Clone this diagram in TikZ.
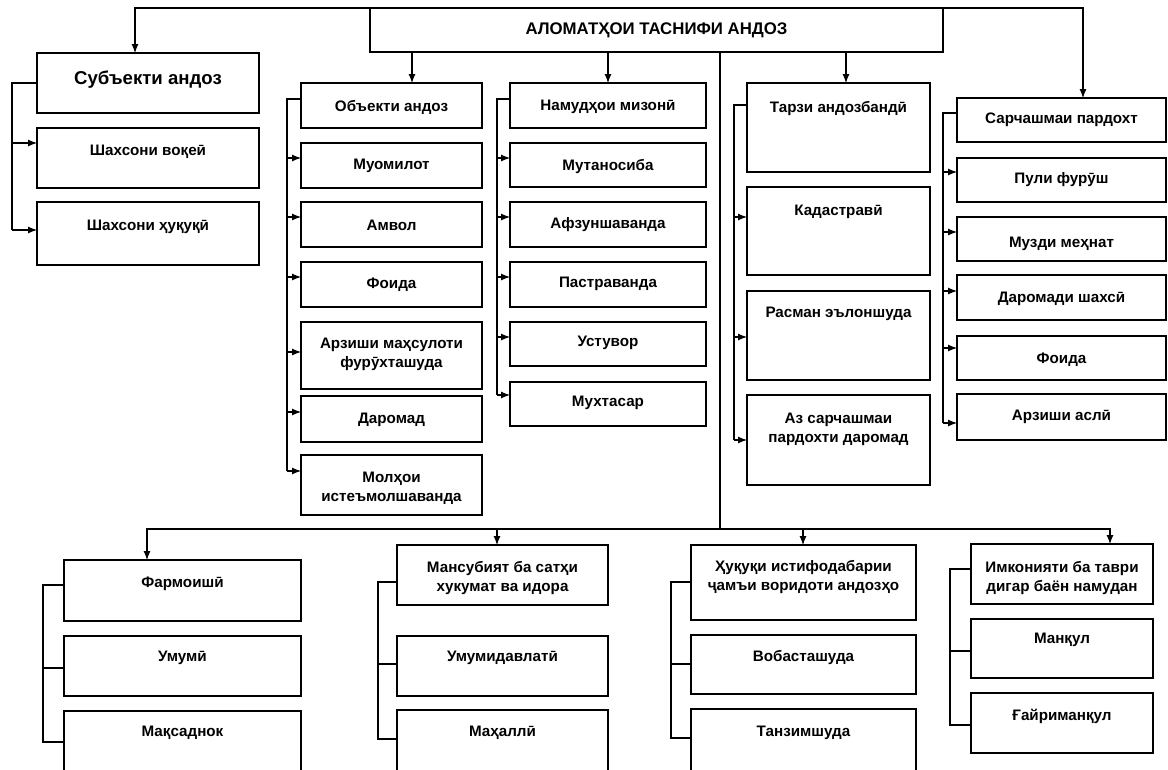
\documentclass[tikz,border=0pt]{standalone}
\usepackage{fontspec}
\setmainfont{Liberation Sans}
\usetikzlibrary{arrows.meta}
\tikzset{
  box/.style={draw, line width=1.2pt, inner sep=0pt, outer sep=0pt, anchor=north west},
  lbl/.style={font=\bfseries\fontsize{15.2}{19}\selectfont, align=center, inner sep=0pt},
  ln/.style={line width=1.1pt},
  arr/.style={ln, -{Latex[length=9pt,width=7pt]}},
}
\newcommand\bx[7]{%
  \node[box,minimum width={(#4-#2)*1pt},minimum height={(#5-#3)*1pt}] (#1) at (#2,#3) {};
  \node[lbl] (#1-t) at ({(#2+#4)/2},#6) {#7};}
\begin{document}
\begin{tikzpicture}[x=1pt,y=-1pt]
\useasboundingbox (0,0) rectangle (1168,769);
\fill[white] (0,0) rectangle (1168,769);
% main
\bx{main}{370}{8}{943}{52}{30}{\fontsize{16.8}{20}\selectfont АЛОМАТҲОИ ТАСНИФИ АНДОЗ}
% left column
\bx{subj}{37}{53}{259}{113}{80}{\fontsize{18.6}{22}\selectfont Субъекти андоз}
\bx{voq}{37}{128}{259}{188}{152}{Шахсони воқеӣ}
\bx{huq}{37}{202}{259}{265}{227}{Шахсони ҳуқуқӣ}
% column 2
\bx{obj}{301}{83}{482}{128}{107}{Объекти андоз}
\bx{muom}{301}{143}{482}{188}{166}{Муомилот}
\bx{amv}{301}{202}{482}{247}{225}{Амвол}
\bx{foi}{301}{262}{482}{307}{285}{Фоида}
\bx{arz}{301}{322}{482}{389}{354.5}{Арзиши маҳсулоти\\фурӯхташуда}
\bx{dar}{301}{396}{482}{442}{420}{Даромад}
\bx{mol}{301}{455}{482}{515}{488.5}{Молҳои\\истеъмолшаванда}
% column 3
\bx{nam}{510}{83}{706}{128}{107}{Намудҳои мизонӣ}
\bx{mut}{510}{143}{706}{187}{166}{Мутаносиба}
\bx{afz}{510}{202}{706}{247}{225}{Афзуншаванда}
\bx{pas}{510}{262}{706}{307}{284}{Пастраванда}
\bx{ust}{510}{322}{706}{366}{343}{Устувор}
\bx{mux}{510}{382}{706}{426}{403}{Мухтасар}
% column 4
\bx{tar}{747}{83}{930}{172}{108}{Тарзи андозбандӣ}
\bx{kad}{747}{187}{930}{275}{212}{Кадастравӣ}
\bx{ras}{747}{291}{930}{380}{314}{Расман эълоншуда}
\bx{azs}{747}{395}{930}{485}{429}{Аз сарчашмаи\\пардохти даромад}
% column 5
\bx{sar}{957}{98}{1166}{142}{120}{Сарчашмаи пардохт}
\bx{pul}{957}{158}{1166}{202}{180}{Пули фурӯш}
\bx{muz}{957}{217}{1166}{261}{244}{Музди меҳнат}
\bx{dsh}{957}{275}{1166}{320}{299}{Даромади шахсӣ}
\bx{fo2}{957}{336}{1166}{380}{360}{Фоида}
\bx{ars}{957}{394}{1166}{440}{417}{Арзиши аслӣ}
% bottom row
\bx{farm}{64}{560}{301}{621}{584}{Фармоишӣ}
\bx{umu}{64}{636}{301}{696}{658}{Умумӣ}
\bx{mqs}{64}{711}{301}{790}{733}{Мақсаднок}
\bx{mans}{397}{545}{608}{605}{578}{Мансубият ба сатҳи\\хукумат ва идора}
\bx{umd}{397}{636}{608}{696}{658}{Умумидавлатӣ}
\bx{mah}{397}{710}{608}{790}{733}{Маҳаллӣ}
\bx{hqi}{691}{545}{916}{620}{577}{Ҳуқуқи истифодабарии\\ҷамъи воридоти андозҳо}
\bx{vob}{691}{635}{916}{694}{657}{Вобасташуда}
\bx{tan}{691}{709}{916}{790}{733}{Танзимшуда}
\bx{imk}{971}{544}{1153}{604}{577.5}{Имконияти ба таври\\дигар баён намудан}
\bx{man}{971}{619}{1153}{678}{640}{Манқул}
\bx{gay}{971}{693}{1153}{753}{716}{Ғайриманқул}
% top connectors
\draw[arr] (main.north west) -| (subj.north -| 135,0);
\draw[arr] (main.north east) -| (sar.north -| 1083,0);
\draw[arr] (main.south -| 412,0) -- (obj.north -| 412,0);
\draw[arr] (main.south -| 608,0) -- (nam.north -| 608,0);
\draw[arr] (main.south -| 846,0) -- (tar.north -| 846,0);
\coordinate (hub) at (main.south -| 720,0);
\draw[ln] (hub) -- (hub |- 0,529);
\draw[arr] (hub |- 0,529) -| (farm.north -| 147,0);
\draw[arr] (hub |- 0,529) -| (imk.north -| 1110,0);
\draw[arr] (497,529) -- (mans.north -| 497,0);
\draw[arr] (803,529) -- (hqi.north -| 803,0);
% left group
\draw[ln] (subj.west |- 0,83) -| (12,230);
\foreach \n/\y in {voq/143,huq/230} \draw[arr] (12,\y) -- (\n.west |- 0,\y);
% column 2 group
\draw[ln] (obj.west |- 0,99) -| (287,471);
\foreach \n/\y in {muom/158,amv/217,foi/277,arz/352,dar/412,mol/471} \draw[arr] (287,\y) -- (\n.west |- 0,\y);
% column 3 group
\draw[ln] (nam.west |- 0,99) -| (497,395);
\foreach \n/\y in {mut/158,afz/217,pas/277,ust/337,mux/395} \draw[arr] (497,\y) -- (\n.west |- 0,\y);
% column 4 group
\draw[ln] (tar.west |- 0,105) -| (734,440);
\foreach \n/\y in {kad/217,ras/337,azs/440} \draw[arr] (734,\y) -- (\n.west |- 0,\y);
% column 5 group
\draw[ln] (sar.west |- 0,113) -| (943,423);
\foreach \n/\y in {pul/172,muz/232,dsh/291,fo2/348,ars/423} \draw[arr] (943,\y) -- (\n.west |- 0,\y);
% bottom groups (plain ticks)
\draw[ln] (farm.west |- 0,585) -| (43,742) -- (mqs.west |- 0,742);
\draw[ln] (43,668) -- (umu.west |- 0,668);
\draw[ln] (mans.west |- 0,582) -| (378,739) -- (mah.west |- 0,739);
\draw[ln] (378,664) -- (umd.west |- 0,664);
\draw[ln] (hqi.west |- 0,582) -| (671,738) -- (tan.west |- 0,738);
\draw[ln] (671,664) -- (vob.west |- 0,664);
\draw[ln] (imk.west |- 0,569) -| (950,725) -- (gay.west |- 0,725);
\draw[ln] (950,651) -- (man.west |- 0,651);
\end{tikzpicture}
\end{document}
